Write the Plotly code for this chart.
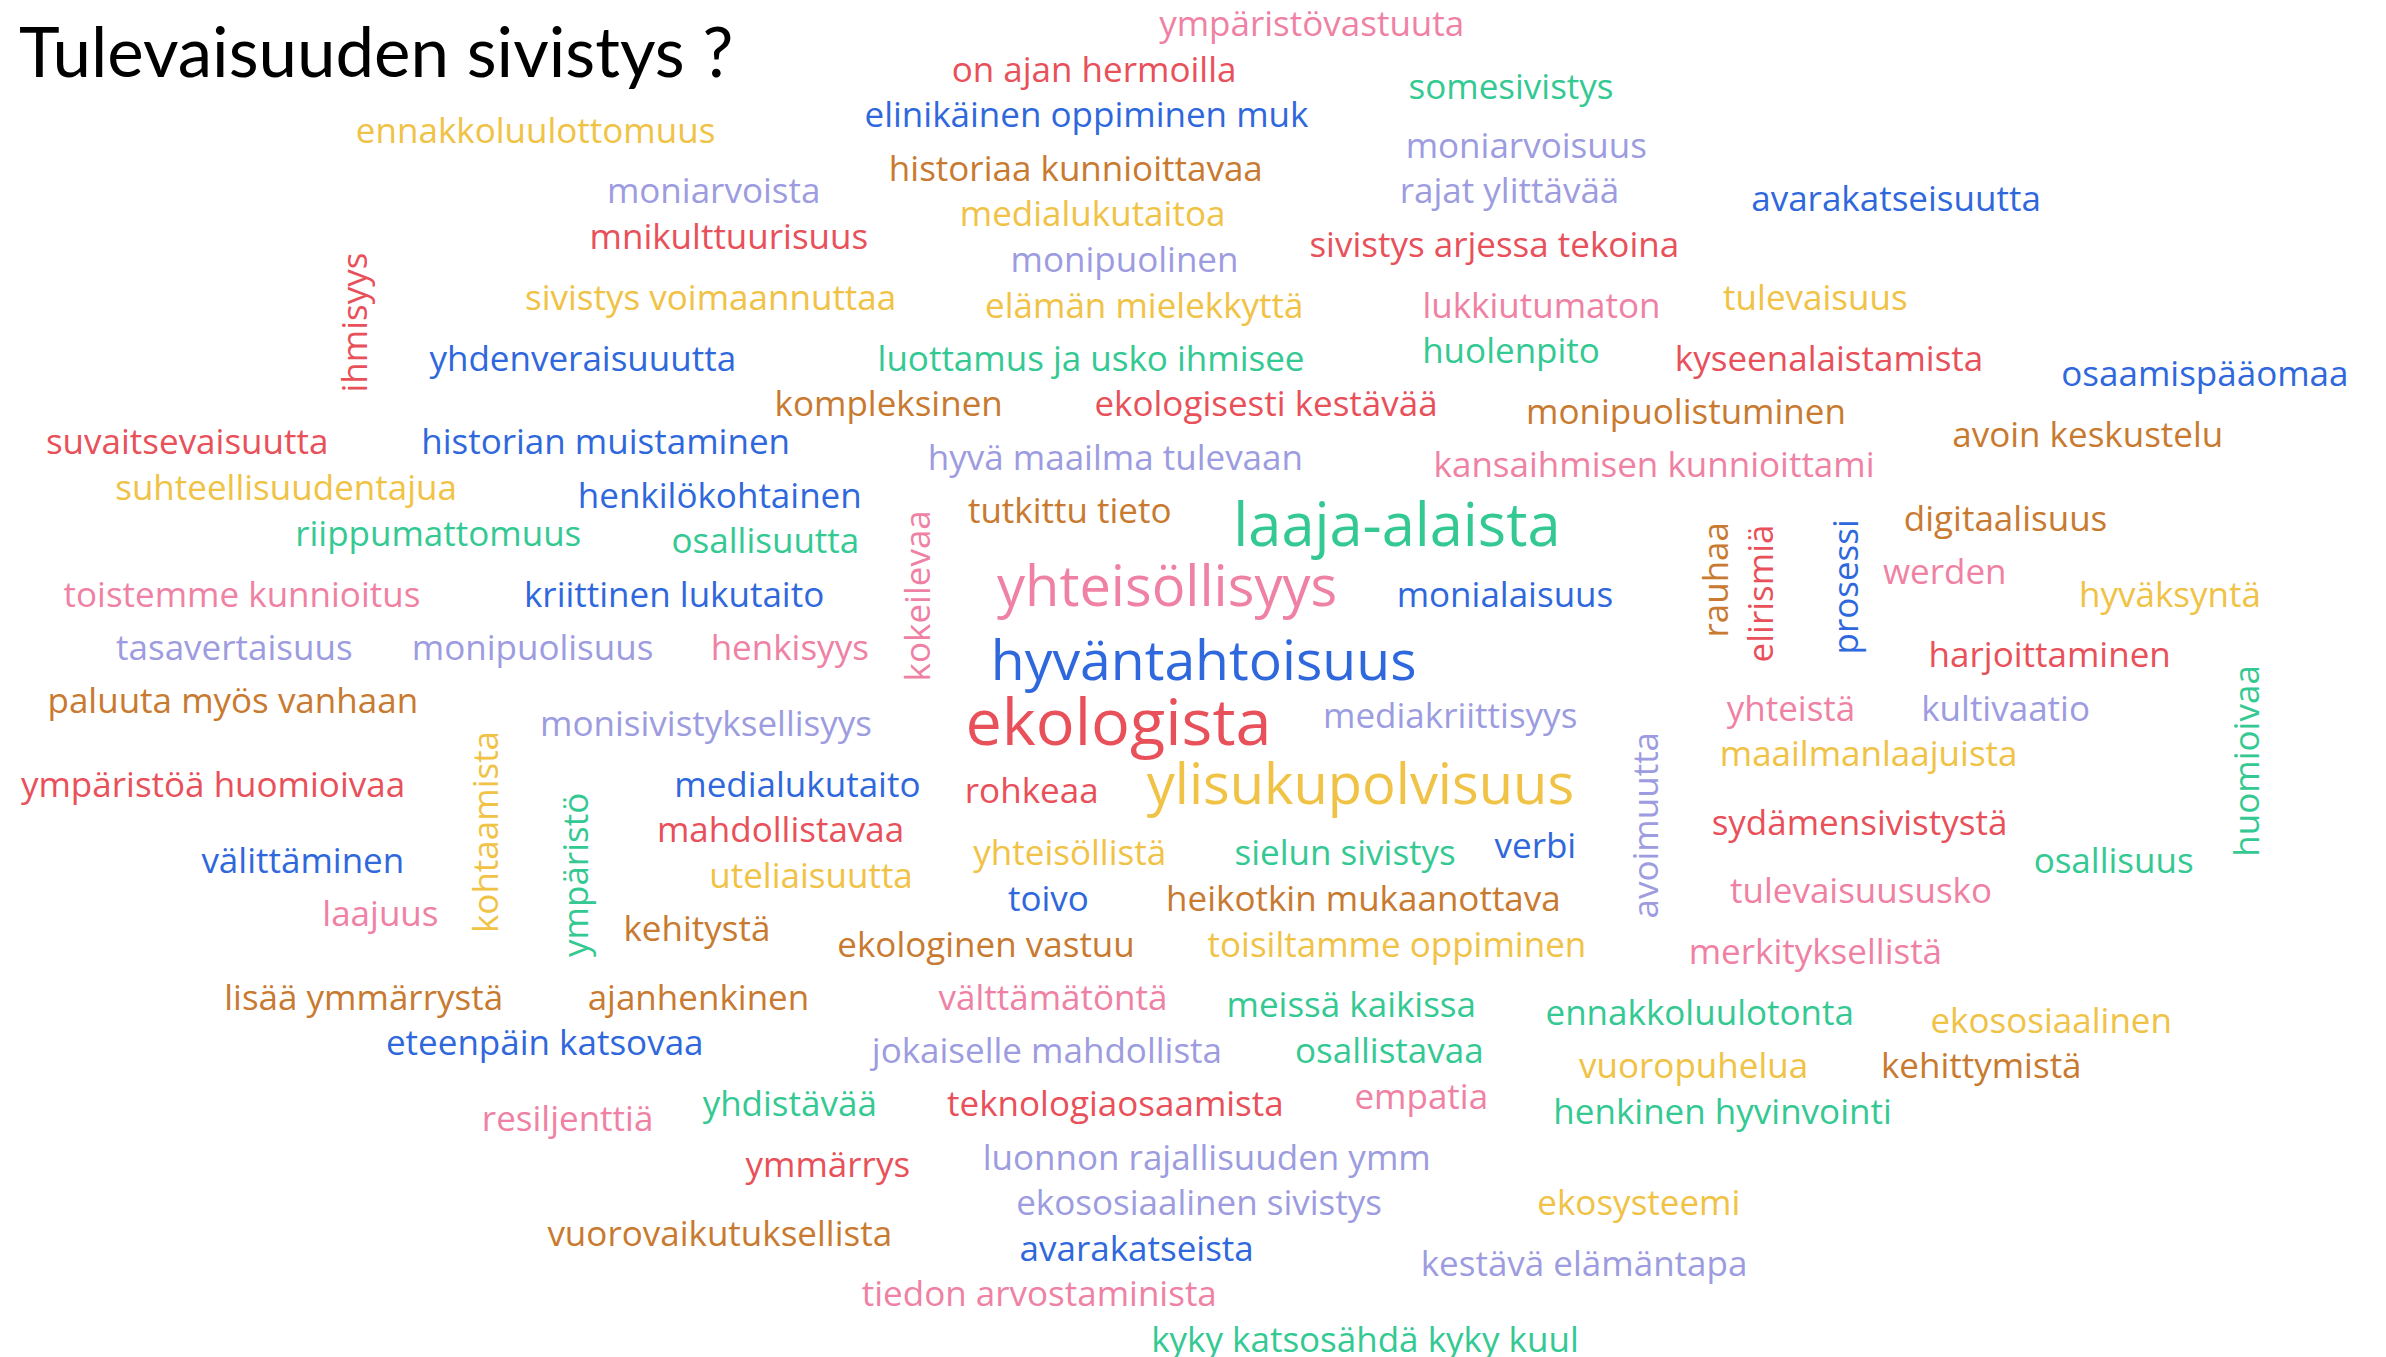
import plotly.graph_objects as go

# ---- data (positions in reference-image units, 1568 x 892 canvas) ----
words = [
    "ympäristövastuuta", "on ajan hermoilla", "somesivistys", "elinikäinen oppiminen muk",
    "ennakkoluulottomuus", "moniarvoisuus", "historiaa kunnioittavaa", "moniarvoista",
    "rajat ylittävää", "avarakatseisuutta", "medialukutaitoa", "mnikulttuurisuus",
    "sivistys arjessa tekoina", "monipuolinen", "ihmisyys", "sivistys voimaannuttaa",
    "elämän mielekkyttä", "lukkiutumaton", "tulevaisuus", "yhdenveraisuuutta",
    "luottamus ja usko ihmisee", "huolenpito", "kyseenalaistamista", "osaamispääomaa",
    "kompleksinen", "ekologisesti kestävää", "monipuolistuminen", "suvaitsevaisuutta",
    "historian muistaminen", "avoin keskustelu", "hyvä maailma tulevaan", "kansaihmisen kunnioittami",
    "suhteellisuudentajua", "henkilökohtainen", "tutkittu tieto", "laaja-alaista",
    "digitaalisuus", "riippumattomuus", "osallisuutta", "kokeilevaa",
    "rauhaa", "elirismiä", "prosessi", "werden",
    "toistemme kunnioitus", "kriittinen lukutaito", "yhteisöllisyys", "monialaisuus",
    "hyväksyntä", "tasavertaisuus", "monipuolisuus", "henkisyys",
    "hyväntahtoisuus", "harjoittaminen", "paluuta myös vanhaan", "yhteistä",
    "kultivaatio", "huomioivaa", "monisivistyksellisyys", "ekologista",
    "mediakriittisyys", "kohtaamista", "avoimuutta", "maailmanlaajuista",
    "ympäristöä huomioivaa", "medialukutaito", "rohkeaa", "ylisukupolvisuus",
    "ympäristö", "mahdollistavaa", "sydämensivistystä", "yhteisöllistä",
    "sielun sivistys", "verbi", "välittäminen", "osallisuus",
    "uteliaisuutta", "toivo", "heikotkin mukaanottava", "tulevaisuususko",
    "laajuus", "kehitystä", "ekologinen vastuu", "toisiltamme oppiminen",
    "merkityksellistä", "lisää ymmärrystä", "ajanhenkinen", "välttämätöntä",
    "meissä kaikissa", "ennakkoluulotonta", "ekososiaalinen", "eteenpäin katsovaa",
    "jokaiselle mahdollista", "osallistavaa", "vuoropuhelua", "kehittymistä",
    "resiljenttiä", "yhdistävää", "teknologiaosaamista", "empatia",
    "henkinen hyvinvointi", "ymmärrys", "luonnon rajallisuuden ymm", "ekososiaalinen sivistys",
    "ekosysteemi", "vuorovaikutuksellista", "avarakatseista", "kestävä elämäntapa",
    "tiedon arvostaminista", "kyky katsosähdä kyky kuul",
]

word_x = [
    862, 719, 993, 714,
    352, 1003, 707, 469,
    992, 1246, 718, 479,
    982, 739, 232, 467,
    752, 1013, 1193, 383,
    717, 993, 1202, 1449,
    584, 832, 1108, 123,
    398, 1372, 733, 1087,
    188, 473, 703, 918,
    1318, 288, 503, 602,
    1127, 1156, 1212, 1278,
    159, 443, 767, 989,
    1426, 154, 350, 519,
    791, 1347, 153, 1177,
    1318, 1476, 464, 735,
    953, 318, 1081, 1228,
    140, 524, 678, 894,
    378, 513, 1222, 703,
    884, 1009, 199, 1389,
    533, 689, 896, 1223,
    250, 458, 648, 918,
    1193, 239, 459, 692,
    888, 1117, 1348, 358,
    688, 913, 1113, 1302,
    373, 519, 733, 934,
    1132, 544, 793, 788,
    1077, 473, 747, 1041,
    683, 897,
]

word_y = [
    16, 46, 57, 76,
    86, 96, 111, 126,
    126, 131, 141, 156,
    161, 171, 210, 196,
    201, 201, 196, 236,
    236, 231, 236, 246,
    266, 266, 271, 291,
    291, 286, 301, 306,
    321, 326, 336, 347,
    341, 351, 356, 390,
    379, 388, 384, 376,
    391, 391, 387, 391,
    391, 426, 426, 426,
    436, 431, 461, 466,
    466, 498, 476, 477,
    471, 545, 540, 496,
    516, 516, 520, 517,
    573, 546, 541, 561,
    561, 556, 566, 566,
    576, 591, 591, 586,
    601, 611, 621, 621,
    626, 656, 656, 656,
    661, 666, 671, 686,
    691, 691, 701, 701,
    736, 726, 726, 721,
    731, 766, 761, 791,
    791, 811, 821, 831,
    851, 881,
]

# colour group of each word (r=red, p=pink, g=gold, b=brown, e=green, u=blue, l=lavender)
word_group = [
    "p", "r", "e", "u",
    "g", "l", "b", "l",
    "l", "u", "g", "r",
    "r", "l", "r", "g",
    "g", "p", "g", "u",
    "e", "e", "r", "u",
    "b", "r", "b", "r",
    "u", "b", "l", "p",
    "g", "u", "b", "e",
    "b", "e", "e", "p",
    "b", "r", "u", "p",
    "p", "u", "p", "u",
    "g", "l", "l", "p",
    "u", "r", "b", "p",
    "l", "e", "l", "r",
    "l", "g", "l", "g",
    "r", "u", "r", "g",
    "e", "r", "r", "g",
    "e", "u", "u", "e",
    "g", "u", "b", "p",
    "p", "b", "b", "g",
    "p", "b", "b", "p",
    "e", "e", "g", "u",
    "l", "e", "g", "b",
    "p", "e", "r", "p",
    "e", "r", "l", "l",
    "g", "b", "u", "l",
    "p", "e",
]

# relative prominence of each word (1 = mentioned once)
word_weight = {
    "laaja-alaista": 1.7, "yhteisöllisyys": 1.6, "hyväntahtoisuus": 1.58,
    "ekologista": 1.85, "ylisukupolvisuus": 1.6,
}

vertical_words = {"ihmisyys", "kokeilevaa", "rauhaa", "elirismiä", "prosessi",
                  "huomioivaa", "kohtaamista", "avoimuutta", "ympäristö"}

title_text = "Tulevaisuuden sivistys ?"

# ---- styles ----
palette = {
    "r": "#e8505a", "p": "#ef82a4", "g": "#f0c245", "b": "#c87a30",
    "e": "#34c993", "u": "#2f68dc", "l": "#9d9ce0",
}
base_size = 35
font_family = "Open Sans"

fig = go.Figure()

hx, hy, ht, hc, hs = [], [], [], [], []
for w, x, y, g in zip(words, word_x, word_y, word_group):
    size = base_size * word_weight.get(w, 1.0)
    if w in vertical_words:
        fig.add_annotation(x=x, y=y, xref="x", yref="y", text=w, textangle=-90,
                           showarrow=False, font=dict(family=font_family, size=size, color=palette[g]))
    else:
        hx.append(x); hy.append(y); ht.append(w); hc.append(palette[g]); hs.append(size)

fig.add_trace(go.Scatter(
    x=hx, y=hy, text=ht, mode="text", textposition="middle center",
    textfont=dict(family=font_family, size=hs, color=hc),
    hoverinfo="text", cliponaxis=False, showlegend=False,
))

fig.add_annotation(x=11, y=31, xref="x", yref="y", text=title_text, showarrow=False,
                   xanchor="left", yanchor="middle",
                   font=dict(family="Lato", size=69, color="#000000"))

fig.update_layout(
    width=2386, height=1357,
    margin=dict(l=0, r=0, t=0, b=0),
    paper_bgcolor="white", plot_bgcolor="white",
    xaxis=dict(range=[0, 1568], visible=False, fixedrange=True),
    yaxis=dict(range=[890, -2], visible=False, fixedrange=True),
)

fig.write_html("out.html", config={"displayModeBar": False},
               post_script="document.body.style.margin='0';document.body.style.overflow='hidden';")
